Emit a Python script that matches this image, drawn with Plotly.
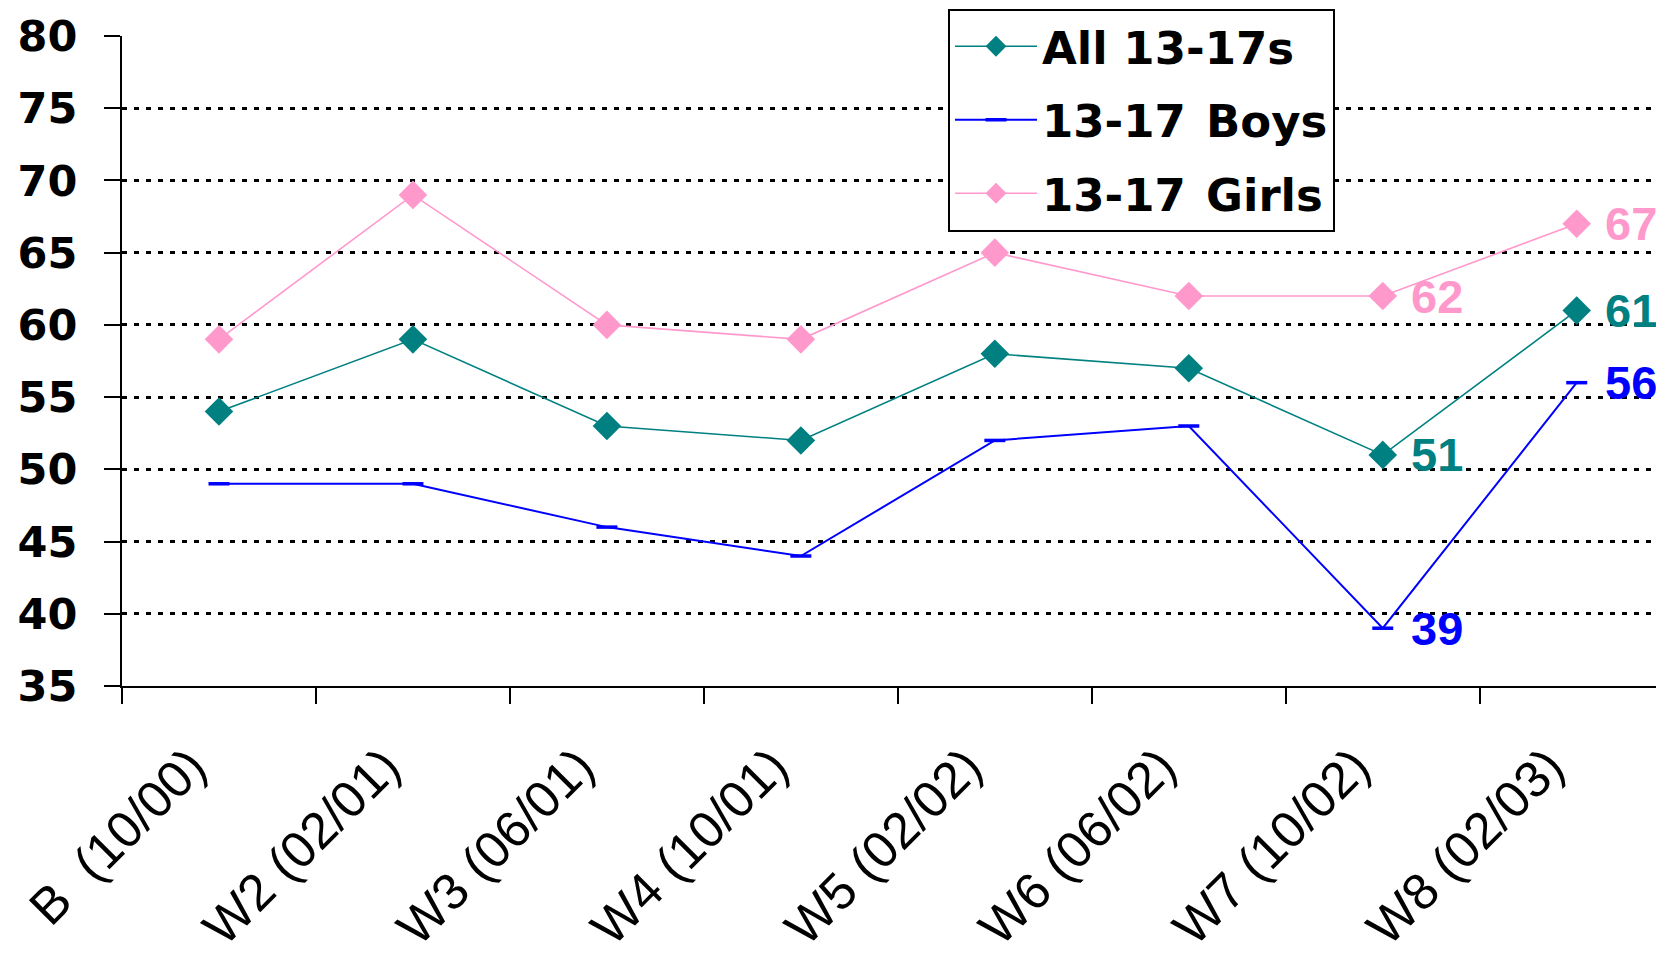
import plotly.graph_objects as go

categories = ["B  (10/00)", "W2 (02/01)", "W3 (06/01)", "W4 (10/01)",
              "W5 (02/02)", "W6 (06/02)", "W7 (10/02)", "W8 (02/03)"]
all_1317 = [54, 59, 53, 52, 58, 57, 51, 61]
boys_1317 = [49, 49, 46, 44, 52, 53, 39, 56]
girls_1317 = [59, 69, 60, 59, 65, 62, 62, 67]
y_ticks = [35, 40, 45, 50, 55, 60, 65, 70, 75, 80]

TEAL = "#008080"
BLUE = "#0000FF"
PINK = "#FF99CC"

fig = go.Figure()
fig.add_trace(go.Scatter(
    x=categories, y=all_1317, name="All 13-17s", mode="lines+markers",
    line=dict(color=TEAL, width=1.6),
    marker=dict(symbol="diamond", size=22, color=TEAL),
    legendgroup="a"))
fig.add_trace(go.Scatter(
    x=categories, y=boys_1317, name="13-17\u200a Boys", mode="lines+markers",
    line=dict(color=BLUE, width=2),
    marker=dict(symbol="line-ew", size=15, line=dict(color=BLUE, width=3.5)),
    legendgroup="b"))
fig.add_trace(go.Scatter(
    x=categories, y=girls_1317, name="13-17\u200a Girls", mode="lines+markers",
    line=dict(color=PINK, width=1.6),
    marker=dict(symbol="diamond", size=22, color=PINK),
    legendgroup="c"))

# data labels on the last two points of each series
label_font = dict(family="Liberation Sans", size=47)
for series, color in ((all_1317, TEAL), (boys_1317, BLUE), (girls_1317, PINK)):
    for i in (len(categories) - 2, len(categories) - 1):
        fig.add_annotation(
            x=categories[i], y=series[i], text=f"<b>{series[i]}</b>",
            showarrow=False, xanchor="left", yanchor="middle", xshift=26,
            font=dict(label_font, color=color))

fig.update_layout(
    width=1656, height=956,
    margin=dict(l=114, r=0, t=28, b=278, autoexpand=False),
    paper_bgcolor="white", plot_bgcolor="white",
    showlegend=True,
    legend=dict(
        x=(948 - 122) / 1542, xanchor="left",
        y=1.0423, yanchor="top",
        bordercolor="black", borderwidth=2, bgcolor="white",
        font=dict(family="DejaVu Sans", size=45, color="black", weight="bold"),
        traceorder="grouped", tracegroupgap=12, itemwidth=82,
    ),
)
fig.update_xaxes(
    type="category", range=[-0.5, 7.45], automargin=False,
    tickson="boundaries", ticks="outside", ticklen=16, tickwidth=2, tickcolor="black",
    showline=True, linecolor="black", linewidth=2, showgrid=False,
    tickangle=-45, ticklabelstandoff=28, ticklabelshift=-28,
    tickfont=dict(family="Liberation Sans", size=51, color="black"),
)
fig.update_yaxes(
    range=[35, 80], tickvals=y_ticks, ticktext=[str(v) for v in y_ticks],
    automargin=False,
    ticks="outside", ticklen=16, tickwidth=2, tickcolor="black",
    showline=True, linecolor="black", linewidth=2,
    showgrid=True, gridcolor="black", gridwidth=2.5, griddash="5px,7px",
    zeroline=False, ticklabelstandoff=18,
    tickfont=dict(family="DejaVu Sans", size=43, color="black", weight="bold"),
)

fig.write_html("out.html")
